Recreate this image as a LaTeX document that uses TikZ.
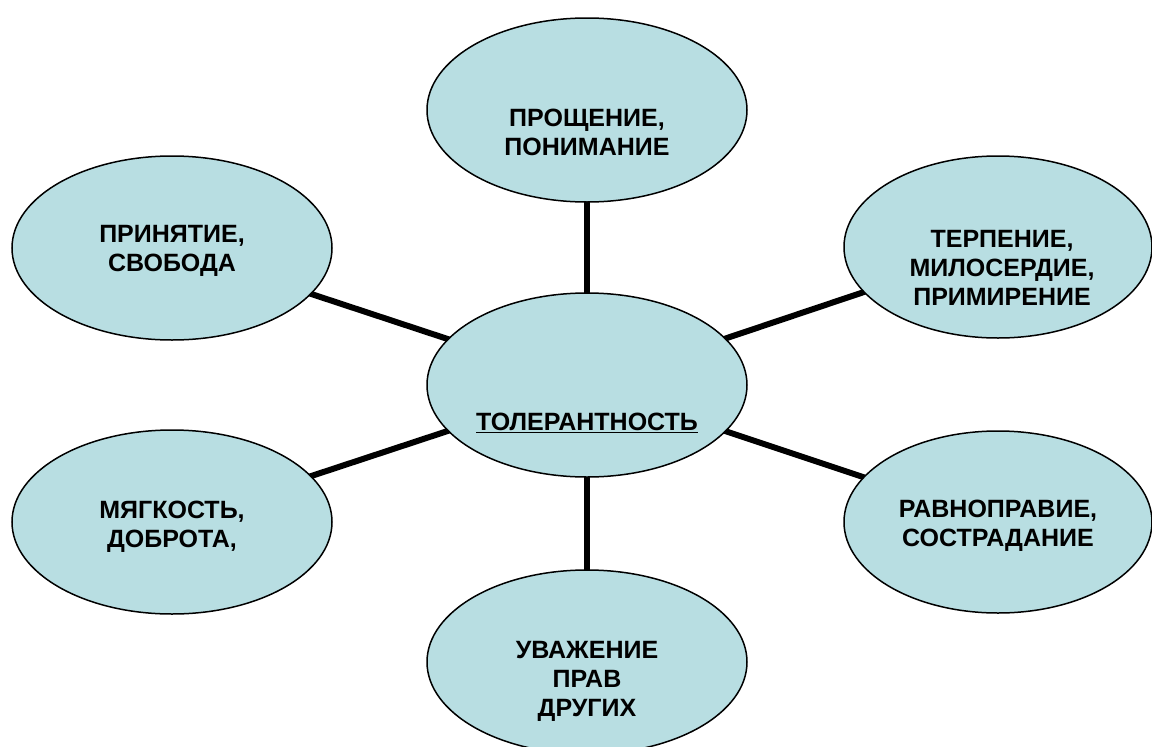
\documentclass[tikz,border=0pt]{standalone}
\usepackage{fontspec}
\setmainfont{Liberation Sans}
\usetikzlibrary{shapes.geometric,backgrounds}
\definecolor{bubblefill}{RGB}{184,222,226}
\begin{document}
\begin{tikzpicture}[x=1pt,y=-1pt,
  bubble/.style={ellipse, draw, line width=1.5pt, fill=bubblefill, inner sep=0pt},
  wide/.style={minimum width=320pt, minimum height=184pt},
  narrow/.style={minimum width=308pt, minimum height=182pt},
  lbl/.style={align=center, font=\bfseries\fontsize{25}{29}\selectfont, inner sep=0pt},
  link/.style={line width=6pt}]
\useasboundingbox (0,0) rectangle (1152,747);
\node[bubble, wide] (ctr) at (587,385) {};
\node[bubble, wide] (top) at (587,110) {};
\node[bubble, wide] (lt) at (172,248) {};
\node[bubble, narrow] (rt) at (998,247) {};
\node[bubble, wide] (lb) at (172,522) {};
\node[bubble, narrow] (rb) at (998,522) {};
\node[bubble, wide] (bot) at (587,662) {};
\begin{scope}[on background layer]
  \foreach \n in {top,lt,rt,lb,rb,bot} \draw[link] (ctr.center) -- (\n.center);
\end{scope}
\node[lbl] (ttop) at (587,132) {ПРОЩЕНИЕ,\\ПОНИМАНИЕ};
\node[lbl] (tlt) at (172,251) {ПРИНЯТИЕ,\\СВОБОДА};
\node[lbl] (trt) at (1002,268) {ТЕРПЕНИЕ,\\МИЛОСЕРДИЕ,\\ПРИМИРЕНИЕ};
\node[lbl] (tctr) at (587,423) {\underline{ТОЛЕРАНТНОСТЬ}};
\node[lbl] (tlb) at (172,527) {МЯГКОСТЬ,\\ДОБРОТА,};
\node[lbl] (trb) at (998,526) {РАВНОПРАВИЕ,\\СОСТРАДАНИЕ};
\node[lbl] (tbot) at (587,681) {УВАЖЕНИЕ\\ПРАВ\\ДРУГИХ};
\end{tikzpicture}
\end{document}
